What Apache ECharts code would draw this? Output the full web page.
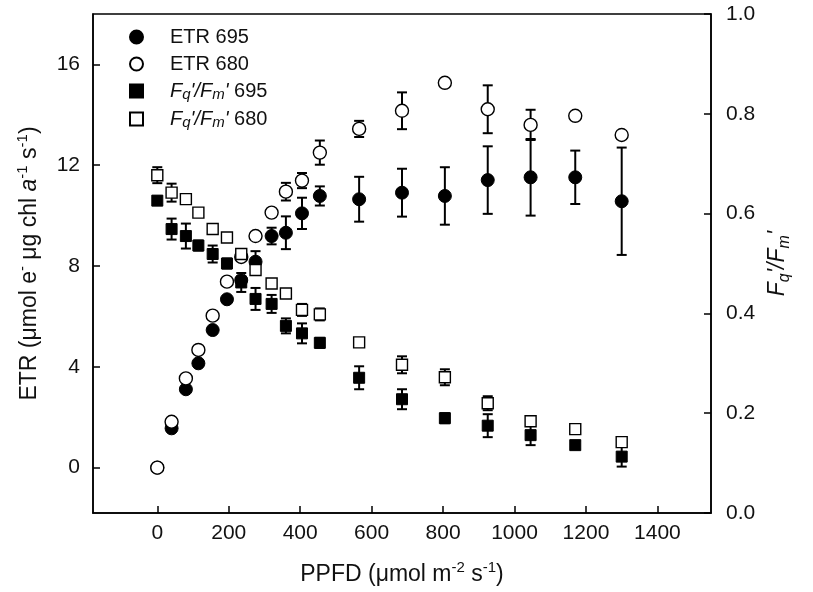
<!DOCTYPE html>
<html>
<head>
<meta charset="utf-8">
<script src="https://cdn.jsdelivr.net/npm/echarts@6/dist/echarts.min.js"></script>
<style>
html,body{margin:0;padding:0;background:#fff;}
#chart{width:813px;height:592px;}
</style>
</head>
<body>
<div id="chart"></div>
<script>
// ---- data ----
const ppfd = [0, 40, 80, 115, 155, 195, 235, 275, 320, 360, 405, 455, 565, 685, 805, 925, 1045, 1170, 1300];

const etr695    = [0, 1.56, 3.11, 4.14, 5.46, 6.68, 7.44, 8.17, 9.19, 9.32, 10.09, 10.78, 10.65, 10.91, 10.78, 11.41, 11.52, 11.52, 10.57];
const etr695Err = [0, 0.1, 0.1, 0.1, 0.1, 0.1, 0.15, 0.42, 0.33, 0.65, 0.62, 0.38, 0.89, 0.95, 1.14, 1.34, 1.52, 1.06, 2.13];

const etr680    = [0, 1.82, 3.54, 4.67, 6.03, 7.38, 8.36, 9.19, 10.12, 10.95, 11.39, 12.5, 13.44, 14.16, 15.27, 14.22, 13.6, 13.96, 13.2];
const etr680Err = [0, 0.05, 0.05, 0.05, 0.05, 0.05, 0.05, 0.05, 0.1, 0.35, 0.3, 0.48, 0.32, 0.73, 0, 0.95, 0.6, 0, 0.15];

const fq695    = [0.626, 0.569, 0.555, 0.536, 0.519, 0.500, 0.462, 0.429, 0.419, 0.375, 0.360, 0.341, 0.271, 0.228, 0.190, 0.175, 0.156, 0.136, 0.113];
const fq695Err = [0.008, 0.021, 0.025, 0.01, 0.017, 0.01, 0.019, 0.022, 0.018, 0.015, 0.02, 0.01, 0.023, 0.02, 0.01, 0.023, 0.02, 0.008, 0.02];

const fq680    = [0.677, 0.642, 0.629, 0.602, 0.569, 0.552, 0.519, 0.487, 0.460, 0.440, 0.407, 0.398, 0.342, 0.297, 0.272, 0.220, 0.184, 0.168, 0.142];
const fq680Err = [0.016, 0.018, 0.008, 0.005, 0.005, 0.005, 0.005, 0.008, 0.005, 0.005, 0.012, 0.012, 0.005, 0.017, 0.016, 0.014, 0.005, 0.005, 0.005];

const xTicks = [0, 200, 400, 600, 800, 1000, 1200, 1400];
const yLeftTicks = [0, 4, 8, 12, 16];

const seriesNames = ['ETR 695', 'ETR 680', "Fq'/Fm' 695", "Fq'/Fm' 680"];

// ---- helpers ----
const FONT = '"Liberation Sans", Arial, Helvetica, sans-serif';
const INK = '#111';

function pts(ys) { return ppfd.map((x, i) => [x, ys[i]]); }
function errPts(ys, es) { return ppfd.map((x, i) => [x, ys[i], es[i]]); }

function errorRender(params, api) {
  const x = api.value(0), y = api.value(1), e = api.value(2);
  if (!e) return null;
  const top = api.coord([x, y + e]);
  const bot = api.coord([x, y - e]);
  const cw = 5;
  const st = { stroke: '#000', lineWidth: 2 };
  return {
    type: 'group',
    children: [
      { type: 'line', shape: { x1: top[0], y1: top[1], x2: bot[0], y2: bot[1] }, style: st },
      { type: 'line', shape: { x1: top[0] - cw, y1: top[1], x2: top[0] + cw, y2: top[1] }, style: st },
      { type: 'line', shape: { x1: bot[0] - cw, y1: bot[1], x2: bot[0] + cw, y2: bot[1] }, style: st }
    ]
  };
}

function errSeries(ys, es, yIdx) {
  return {
    type: 'custom', coordinateSystem: 'cartesian2d', yAxisIndex: yIdx,
    renderItem: errorRender, data: errPts(ys, es), silent: true,
    encode: { x: 0, y: 1 }
  };
}

const filled = { color: '#000', borderColor: '#000', borderWidth: 1, opacity: 1 };
const open = { color: '#fff', borderColor: '#000', borderWidth: 1.4, opacity: 1 };

const baseRich = {
  t: { fontFamily: FONT, fontSize: 23, color: INK, lineHeight: 30 },
  it: { fontFamily: FONT, fontSize: 23, color: INK, fontStyle: 'italic', lineHeight: 30 },
  sup: { fontFamily: FONT, fontSize: 15, color: INK, verticalAlign: 'top', lineHeight: 16 },
  itsub: { fontFamily: FONT, fontSize: 16, color: INK, fontStyle: 'italic', verticalAlign: 'bottom', lineHeight: 16 }
};

const legendRich = {
  g: { width: 22, lineHeight: 22 },
  t: { fontFamily: FONT, fontSize: 20, color: INK, lineHeight: 22 },
  it: { fontFamily: FONT, fontSize: 20, color: INK, fontStyle: 'italic', lineHeight: 22 },
  itsub: { fontFamily: FONT, fontSize: 15, color: INK, fontStyle: 'italic', verticalAlign: 'bottom', lineHeight: 12 }
};

const chart = echarts.init(document.getElementById('chart'), null, { renderer: 'canvas' });

const tickStyle = { color: '#000', width: 1.5 };
const labelBase = { show: true, fontSize: 21, color: INK, fontFamily: FONT };

chart.setOption({
  backgroundColor: '#fff',
  animation: false,
  textStyle: { fontFamily: FONT, color: INK },
  grid: { left: 93, right: 102, top: 14, bottom: 79, show: true, borderColor: '#000', borderWidth: 1.5, backgroundColor: 'transparent' },
  legend: {
    data: seriesNames,
    orient: 'vertical', left: 124, top: 22,
    itemWidth: 13, itemHeight: 13, itemGap: 7,
    selectedMode: false,
    formatter: function (name) {
      if (name.indexOf('Fq') === 0) {
        const num = name.split(' ')[1];
        return "{g|}{it|F}{itsub|q}{it|'/F}{itsub|m}{it|'}{t| " + num + "}";
      }
      return '{g|}{t|' + name + '}';
    },
    textStyle: { rich: legendRich, padding: 0 }
  },
  xAxis: {
    type: 'value', min: -180, max: 1550,
    axisLine: { show: true, onZero: false, lineStyle: tickStyle },
    axisTick: { show: true, inside: true, length: 7, lineStyle: tickStyle, customValues: xTicks },
    axisLabel: Object.assign({}, labelBase, { margin: 10, customValues: xTicks, formatter: v => String(v) }),
    splitLine: { show: false },
    name: '{t|PPFD (μmol m}{sup|-2}{t| s}{sup|-1}{t|)}',
    nameLocation: 'middle', nameGap: 47,
    nameTextStyle: { rich: baseRich }
  },
  yAxis: [
    {
      type: 'value', min: -1.8, max: 18, position: 'left',
      axisLine: { show: true, onZero: false, lineStyle: tickStyle },
      axisTick: { show: true, inside: true, length: 7, lineStyle: tickStyle, customValues: yLeftTicks },
      axisLabel: Object.assign({}, labelBase, { margin: 13, customValues: yLeftTicks, formatter: v => String(v) }),
      splitLine: { show: false },
      name: '{t|ETR (μmol e}{sup|-}{t| μg chl }{it|a}{sup|-1}{t| s}{sup|-1}{t|)}',
      nameLocation: 'middle', nameGap: 48, nameRotate: 90,
      nameTextStyle: { rich: baseRich }
    },
    {
      type: 'value', min: 0, max: 1, interval: 0.2, position: 'right',
      axisLine: { show: true, onZero: false, lineStyle: tickStyle },
      axisTick: { show: true, inside: true, length: 7, lineStyle: tickStyle },
      axisLabel: Object.assign({}, labelBase, { margin: 15, formatter: v => v.toFixed(1) }),
      splitLine: { show: false },
      name: "{it|F}{itsub|q}{it|'/F}{itsub|m}{it|'}",
      nameLocation: 'middle', nameGap: 48, nameRotate: 90,
      nameTextStyle: { rich: baseRich }
    }
  ],
  series: [
    errSeries(etr695, etr695Err, 0),
    { name: seriesNames[0], type: 'scatter', yAxisIndex: 0, symbol: 'circle', symbolSize: 13, itemStyle: filled, data: pts(etr695) },
    errSeries(etr680, etr680Err, 0),
    { name: seriesNames[1], type: 'scatter', yAxisIndex: 0, symbol: 'circle', symbolSize: 13, itemStyle: open, data: pts(etr680) },
    errSeries(fq695, fq695Err, 1),
    { name: seriesNames[2], type: 'scatter', yAxisIndex: 1, symbol: 'rect', symbolSize: 11, itemStyle: filled, data: pts(fq695) },
    errSeries(fq680, fq680Err, 1),
    { name: seriesNames[3], type: 'scatter', yAxisIndex: 1, symbol: 'rect', symbolSize: 11, itemStyle: open, data: pts(fq680) }
  ]
});
</script>
</body>
</html>
